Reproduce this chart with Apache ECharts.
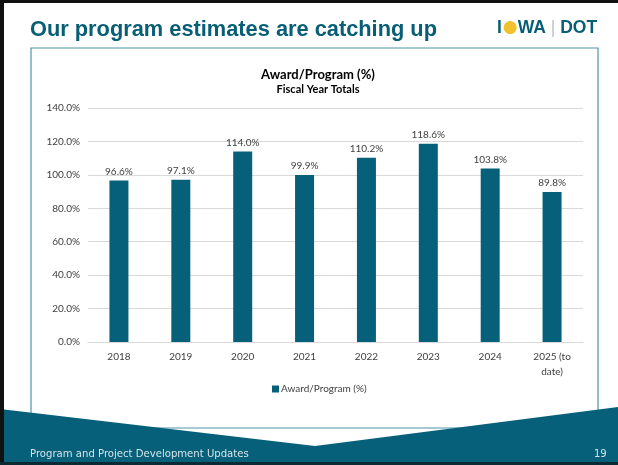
<!DOCTYPE html>
<html>
<head>
<meta charset="utf-8">
<script src="https://cdn.jsdelivr.net/npm/echarts@6/dist/echarts.min.js"></script>
<style>
  html, body { margin: 0; padding: 0; background: #fff; }
  #chart { width: 618px; height: 465px; }
</style>
</head>
<body>
<div id="chart"></div>
<script>
// fiscal years and award/program ratio (%)
const years = ['2018', '2019', '2020', '2021', '2022', '2023', '2024', '2025 (to date)'];
const awardProgram = [96.6, 97.1, 114.0, 99.9, 110.2, 118.6, 103.8, 89.8];
const yTicks = [0, 20, 40, 60, 80, 100, 120, 140];

const teal = '#06607a';
const textGrey = '#404040';

let myChart = echarts.init(document.getElementById('chart'));
myChart.setOption({
  animation: false,
  backgroundColor: '#fff',
  textStyle: { fontFamily: 'Lato' },
  title: {
    text: 'Award/Program (%)',
    subtext: 'Fiscal Year Totals',
    left: 313,
    textAlign: 'center',
    top: 63,
    itemGap: 3,
    textStyle: { fontSize: 13, fontWeight: 'bold', color: '#000', fontFamily: 'Lato' },
    subtextStyle: { fontSize: 11, fontWeight: 'bold', color: '#000', fontFamily: 'Lato' }
  },
  grid: { left: 88, right: 35, top: 108, bottom: 123 },
  legend: {
    data: ['Award/Program (%)'],
    left: 272,
    top: 384,
    padding: 0,
    itemWidth: 7,
    itemHeight: 7,
    itemGap: 2,
    icon: 'rect',
    textStyle: { fontSize: 10, color: textGrey, fontFamily: 'Lato', padding: [0, 0, 0, -3] }
  },
  xAxis: {
    type: 'category',
    data: years,
    axisTick: { show: false },
    axisLine: { lineStyle: { color: '#d9d9d9' } },
    axisLabel: {
      color: textGrey,
      fontSize: 10,
      margin: 7,
      lineHeight: 15,
      formatter: v => v.replace('(to ', '(to\n')
    }
  },
  yAxis: {
    type: 'value',
    min: yTicks[0],
    max: yTicks[yTicks.length - 1],
    interval: 20,
    axisLine: { show: false },
    axisTick: { show: false },
    splitLine: { lineStyle: { color: '#d9d9d9' } },
    axisLabel: {
      color: textGrey,
      fontSize: 10,
      margin: 8,
      formatter: v => v.toFixed(1) + '%'
    }
  },
  series: [{
    name: 'Award/Program (%)',
    type: 'bar',
    data: awardProgram,
    barWidth: 19,
    itemStyle: { color: teal },
    label: {
      show: true,
      position: 'top',
      distance: 4,
      color: textGrey,
      fontSize: 10,
      formatter: p => p.value.toFixed(1) + '%'
    }
  }],
  graphic: [
    // chart frame
    { type: 'rect', z: 0, shape: { x: 31, y: 48, width: 567, height: 380 },
      style: { fill: 'none', stroke: '#4e94a6', lineWidth: 1.2 } },
    // slide title
    { type: 'text', left: 30, top: 19, z: 10,
      style: { text: 'Our program estimates are catching up', fill: '#075e75',
        font: 'bold 21.8px "Liberation Sans", Arial, sans-serif' } },
    // logo
    { type: 'text', left: 497, top: 19, z: 10,
      style: {
        text: '{a|I}{o|●}{a|WA}{s| | }{a|DOT}',
        rich: {
          a: { fill: '#075e75', font: 'bold 17.5px "Liberation Sans", Arial, sans-serif' },
          o: { fill: '#f2c12e', font: '17px "DejaVu Sans", sans-serif', padding: [0, 0, 0, 1] },
          s: { fill: '#b9c4c8', font: '17.5px "Liberation Sans", Arial, sans-serif' }
        }
      } },
    // bottom band
    { type: 'polygon', z: 20,
      shape: { points: [[0, 409], [315, 446], [618, 407], [618, 465], [0, 465]] },
      style: { fill: teal } },
    { type: 'text', left: 30, top: 449, z: 21,
      style: { text: 'Program and Project Development Updates', fill: '#d6e3e8',
        font: '10.1px "DejaVu Sans", sans-serif' } },
    { type: 'text', left: 594, top: 449, z: 21,
      style: { text: '19', fill: '#d6e3e8', font: '10px "DejaVu Sans", sans-serif' } },
    // slide border
    { type: 'rect', z: 30, shape: { x: 0, y: 0, width: 618, height: 3 }, style: { fill: '#111' } },
    { type: 'rect', z: 30, shape: { x: 0, y: 0, width: 4, height: 465 }, style: { fill: '#111' } },
    { type: 'rect', z: 30, shape: { x: 0, y: 462, width: 618, height: 3 }, style: { fill: '#0c2a33' } }
  ]
});
</script>
</body>
</html>
